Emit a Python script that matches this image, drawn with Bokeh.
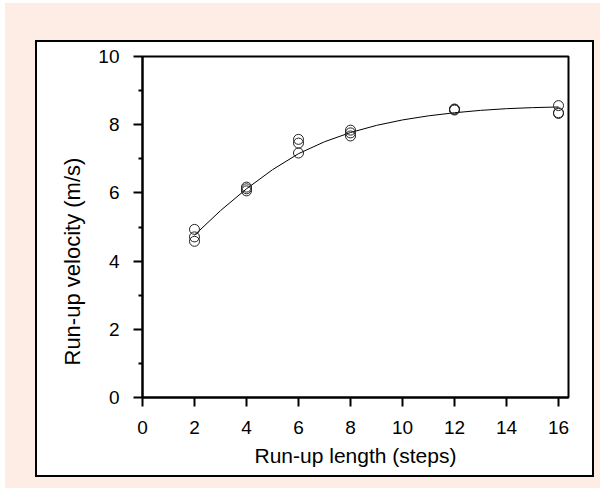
from bokeh.plotting import figure
from bokeh.models import Title, Range1d, FixedTicker
from bokeh.embed import file_html
from bokeh.resources import INLINE

# ---- data ----
run_up_steps = [2, 2, 2, 4, 4, 4, 6, 6, 6, 8, 8, 8, 12, 12, 12, 16, 16, 16]
run_up_velocity = [4.93, 4.71, 4.58, 6.17, 6.12, 6.06, 7.57, 7.46, 7.17,
                   7.84, 7.76, 7.67, 8.43, 8.45, 8.46, 8.56, 8.33, 8.35]

fit_steps = [2, 3, 4, 5, 6, 7, 8, 9, 10, 11, 12, 13, 14, 15, 16]
fit_velocity = [4.76, 5.48, 6.12, 6.68, 7.15, 7.50, 7.77, 7.98, 8.14,
                8.26, 8.35, 8.42, 8.47, 8.50, 8.52]

x_ticks = [0, 2, 4, 6, 8, 10, 12, 14, 16]
y_ticks = [0, 2, 4, 6, 8, 10]
y_minor_ticks = [1, 3, 5, 7, 9]

x_title = "Run-up length (steps)"
y_title = "Run-up velocity (m/s)"

# ---- styling ----
BEIGE = "#FDEDE4"
FONT = "Liberation Sans"
W, H = 600, 488

p = figure(width=W, height=H, output_backend="svg", toolbar_location=None,
           x_range=Range1d(0, 16.385), y_range=Range1d(0, 10),
           min_border_left=142, min_border_right=32,
           min_border_top=56, min_border_bottom=91,
           border_fill_alpha=0.0, background_fill_color="white",
           outline_line_color="black", outline_line_width=2)

# page panel: beige background with a white, black-bordered box (drawn by CSS
# behind the transparent canvas border area)
p.styles = {
    "background": (
        "linear-gradient(#ffffff,#ffffff) 37px 42px / 555px 433px no-repeat, "
        "linear-gradient(#000000,#000000) 35px 40px / 559px 437px no-repeat, "
        f"linear-gradient({BEIGE},{BEIGE}) 5px 3px / 595px 485px no-repeat, "
        "#ffffff"
    )
}

p.grid.visible = False

# axes
p.xaxis.ticker = FixedTicker(ticks=x_ticks, minor_ticks=[])
p.yaxis.ticker = FixedTicker(ticks=y_ticks, minor_ticks=y_minor_ticks)
for ax in (p.xaxis[0], p.yaxis[0]):
    ax.axis_line_color = "black"
    ax.axis_line_width = 2
    ax.major_tick_line_color = "black"
    ax.major_tick_line_width = 2
    ax.major_tick_out = 9
    ax.major_tick_in = 0
    ax.minor_tick_line_color = "black"
    ax.minor_tick_line_width = 2
    ax.minor_tick_out = 4
    ax.minor_tick_in = 0
    ax.major_label_text_font = FONT
    ax.major_label_text_font_size = "19px"
    ax.major_label_text_color = "black"
    ax.major_label_standoff = 14

p.xaxis.axis_label = x_title
p.xaxis.axis_label_text_font = FONT
p.xaxis.axis_label_text_font_size = "21px"
p.xaxis.axis_label_text_font_style = "normal"
p.xaxis.axis_label_text_color = "black"
p.xaxis.axis_label_standoff = 7

p.add_layout(Title(text=y_title, align="left", offset=32, standoff=22,
                   text_font=FONT, text_font_size="22px",
                   text_font_style="normal", text_color="black"), "left")

# fitted curve and data points
p.line(fit_steps, fit_velocity, line_color="black", line_width=1)
p.scatter(run_up_steps, run_up_velocity, marker="circle", size=10,
          fill_color=None, line_color="#222222", line_width=1)

open("out.html", "w").write(file_html(p, INLINE))
